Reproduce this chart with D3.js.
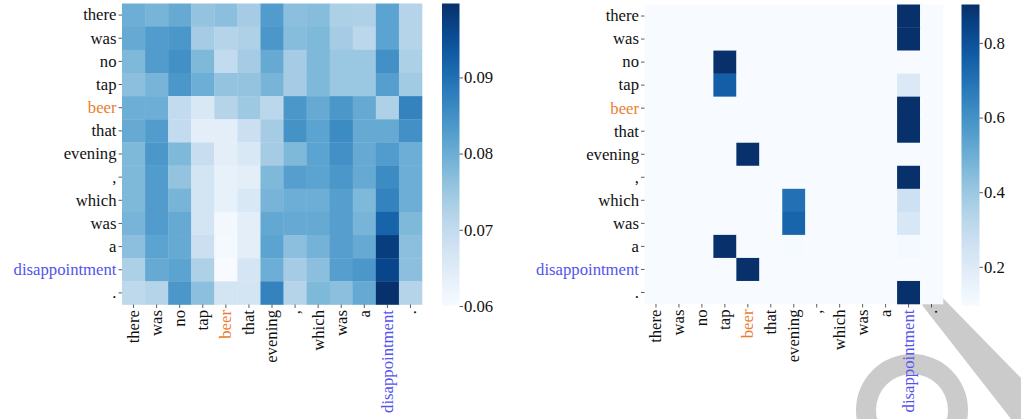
<!DOCTYPE html>
<html>
<head>
<meta charset="utf-8">
<script src="https://cdn.jsdelivr.net/npm/d3@7"></script>
<style>
  html, body { margin: 0; padding: 0; background: #ffffff; }
  svg { display: block; }
</style>
</head>
<body>
<svg id="chart" width="1021" height="419"></svg>
<script>
// Tokens of the sentence (rows = queries, columns = keys)
const tokens = ["there", "was", "no", "tap", "beer", "that", "evening", ",", "which", "was", "a", "disappointment", "."];

// Highlighted tokens: aspect term and opinion term
const tokenColors = { 4: "#ec7c30", 11: "#5353ee" };

// Left panel: dense attention weights
const leftValues = [
  [0.0799, 0.0787, 0.0806, 0.0759, 0.0767, 0.0739, 0.0830, 0.0767, 0.0771, 0.0731, 0.0727, 0.0818, 0.0719],
  [0.0806, 0.0830, 0.0838, 0.0739, 0.0719, 0.0727, 0.0838, 0.0771, 0.0779, 0.0739, 0.0711, 0.0818, 0.0719],
  [0.0779, 0.0830, 0.0850, 0.0779, 0.0699, 0.0739, 0.0806, 0.0739, 0.0779, 0.0751, 0.0751, 0.0850, 0.0731],
  [0.0767, 0.0787, 0.0838, 0.0799, 0.0759, 0.0759, 0.0787, 0.0739, 0.0779, 0.0751, 0.0751, 0.0826, 0.0743],
  [0.0799, 0.0799, 0.0699, 0.0660, 0.0719, 0.0747, 0.0711, 0.0838, 0.0806, 0.0838, 0.0806, 0.0727, 0.0870],
  [0.0806, 0.0830, 0.0699, 0.0640, 0.0640, 0.0687, 0.0739, 0.0846, 0.0818, 0.0858, 0.0806, 0.0806, 0.0850],
  [0.0779, 0.0838, 0.0779, 0.0691, 0.0640, 0.0660, 0.0739, 0.0779, 0.0818, 0.0850, 0.0806, 0.0830, 0.0799],
  [0.0779, 0.0830, 0.0759, 0.0671, 0.0632, 0.0640, 0.0779, 0.0826, 0.0818, 0.0838, 0.0806, 0.0858, 0.0799],
  [0.0779, 0.0830, 0.0787, 0.0671, 0.0632, 0.0660, 0.0787, 0.0799, 0.0799, 0.0826, 0.0779, 0.0870, 0.0799],
  [0.0787, 0.0830, 0.0806, 0.0671, 0.0610, 0.0640, 0.0810, 0.0806, 0.0806, 0.0826, 0.0787, 0.0918, 0.0779],
  [0.0767, 0.0818, 0.0806, 0.0687, 0.0605, 0.0640, 0.0818, 0.0767, 0.0791, 0.0826, 0.0806, 0.0977, 0.0767],
  [0.0731, 0.0806, 0.0818, 0.0727, 0.0600, 0.0667, 0.0799, 0.0739, 0.0767, 0.0826, 0.0838, 0.0965, 0.0767],
  [0.0707, 0.0719, 0.0838, 0.0767, 0.0671, 0.0671, 0.0870, 0.0719, 0.0779, 0.0767, 0.0806, 0.0997, 0.0719]
];

// Right panel: sparse attention weights
const rightValues = [
  [0.095, 0.095, 0.095, 0.095, 0.095, 0.095, 0.095, 0.095, 0.095, 0.095, 0.095, 0.900, 0.095],
  [0.095, 0.095, 0.095, 0.095, 0.095, 0.095, 0.095, 0.095, 0.095, 0.095, 0.095, 0.900, 0.095],
  [0.095, 0.095, 0.095, 0.903, 0.095, 0.095, 0.095, 0.095, 0.095, 0.095, 0.095, 0.095, 0.095],
  [0.095, 0.095, 0.095, 0.760, 0.095, 0.095, 0.095, 0.095, 0.095, 0.095, 0.095, 0.210, 0.095],
  [0.095, 0.095, 0.095, 0.095, 0.095, 0.095, 0.095, 0.095, 0.095, 0.095, 0.095, 0.900, 0.095],
  [0.095, 0.095, 0.095, 0.095, 0.095, 0.095, 0.095, 0.095, 0.095, 0.095, 0.095, 0.900, 0.095],
  [0.095, 0.095, 0.095, 0.095, 0.900, 0.095, 0.095, 0.095, 0.095, 0.095, 0.095, 0.095, 0.095],
  [0.095, 0.095, 0.095, 0.095, 0.095, 0.095, 0.095, 0.095, 0.095, 0.095, 0.095, 0.900, 0.095],
  [0.095, 0.095, 0.095, 0.095, 0.095, 0.095, 0.700, 0.095, 0.095, 0.095, 0.095, 0.260, 0.095],
  [0.095, 0.095, 0.095, 0.095, 0.095, 0.095, 0.740, 0.095, 0.095, 0.095, 0.095, 0.220, 0.095],
  [0.095, 0.095, 0.095, 0.900, 0.095, 0.095, 0.102, 0.095, 0.095, 0.095, 0.095, 0.110, 0.095],
  [0.095, 0.095, 0.095, 0.095, 0.900, 0.095, 0.095, 0.095, 0.095, 0.095, 0.095, 0.095, 0.095],
  [0.095, 0.095, 0.095, 0.095, 0.095, 0.095, 0.095, 0.095, 0.095, 0.095, 0.095, 0.900, 0.095]
];

// Colorbar tick labels
const leftTicks = [0.06, 0.07, 0.08, 0.09];
const rightTicks = [0.2, 0.4, 0.6, 0.8];

const FONT = "'Liberation Serif', 'Times New Roman', serif";
const FONT_SIZE = 16.7;

const svg = d3.select("#chart");

// Faint background mark in the lower right corner
const mark = svg.append("g").attr("fill", "#cbcbcb");
mark.append("path").attr("d", "M922,305 L936,291 L1021,378 L1021,419 L1011,419 Z");
mark.append("path")
  .attr("d", d3.arc()({ innerRadius: 36, outerRadius: 56, startAngle: 0, endAngle: Math.PI * 2 }))
  .attr("transform", "translate(912,410)");

function styleText(sel, colorOf) {
  sel.attr("font-size", FONT_SIZE)
    .style("font-family", FONT)
    .attr("fill", colorOf);
}

function drawPanel(opts) {
  const { values, x0, y0, w, h, cbX, cbW, cbY0, cbY1, ticks, fmt } = opts;
  const g = svg.append("g");
  const idx = d3.range(tokens.length);
  const x = d3.scaleBand().domain(idx).range([x0, x0 + w]);
  const y = d3.scaleBand().domain(idx).range([y0, y0 + h]);
  const ext = d3.extent(values.flat());
  const color = d3.scaleSequential(d3.interpolateBlues).domain(ext);

  // cells
  g.append("g").selectAll("g")
    .data(values)
    .join("g")
    .selectAll("rect")
    .data((row, i) => row.map((v, j) => ({ i, j, v })))
    .join("rect")
    .attr("x", d => x(d.j))
    .attr("y", d => y(d.i))
    .attr("width", x.bandwidth() + 0.3)
    .attr("height", y.bandwidth() + 0.3)
    .attr("fill", d => color(d.v));

  // y axis
  const yAxis = d3.axisLeft(y).tickSize(3.5).tickPadding(2).tickFormat(i => tokens[i]);
  const ya = g.append("g").attr("transform", `translate(${x0},0)`).call(yAxis);
  ya.select(".domain").remove();
  ya.selectAll("line").attr("stroke", "#333").attr("stroke-width", 0.8);
  styleText(ya.selectAll("text"), i => tokenColors[i] || "#111");

  // x axis
  const xAxis = d3.axisBottom(x).tickSize(3.5).tickPadding(2).tickFormat(i => tokens[i]);
  const xa = g.append("g").attr("transform", `translate(0,${y0 + h})`).call(xAxis);
  xa.select(".domain").remove();
  xa.selectAll("line").attr("stroke", "#333").attr("stroke-width", 0.8);
  styleText(xa.selectAll("text"), i => tokenColors[i] || "#111");
  xa.selectAll("text")
    .attr("text-anchor", "end")
    .attr("dy", "0.32em")
    .attr("transform", "translate(0,5.5) rotate(-90)")
    .attr("x", 0)
    .attr("y", 0);

  // colorbar
  const gradId = "grad" + Math.round(cbX);
  const grad = svg.append("defs").append("linearGradient")
    .attr("id", gradId).attr("x1", 0).attr("y1", 1).attr("x2", 0).attr("y2", 0);
  d3.range(0, 1.0001, 0.05).forEach(t => {
    grad.append("stop").attr("offset", t).attr("stop-color", d3.interpolateBlues(t));
  });
  g.append("rect")
    .attr("x", cbX).attr("y", cbY0)
    .attr("width", cbW).attr("height", cbY1 - cbY0)
    .attr("fill", `url(#${gradId})`);
  const cbScale = d3.scaleLinear().domain(ext).range([cbY1, cbY0]);
  const cbAxis = d3.axisRight(cbScale).tickValues(ticks).tickSize(3.5).tickPadding(1).tickFormat(fmt);
  const ca = g.append("g").attr("transform", `translate(${cbX + cbW},0)`).call(cbAxis);
  ca.select(".domain").remove();
  ca.selectAll("line").attr("stroke", "#333").attr("stroke-width", 0.8);
  styleText(ca.selectAll("text"), "#111");
}

drawPanel({
  values: leftValues, x0: 122, y0: 3.5, w: 300, h: 301,
  cbX: 442, cbW: 17.5, cbY0: 3.5, cbY1: 306, ticks: leftTicks, fmt: d3.format(".2f")
});

drawPanel({
  values: rightValues, x0: 644.5, y0: 4.5, w: 298.5, h: 299.5,
  cbX: 961.5, cbW: 18, cbY0: 4.5, cbY1: 306, ticks: rightTicks, fmt: d3.format(".1f")
});
</script>
</body>
</html>
